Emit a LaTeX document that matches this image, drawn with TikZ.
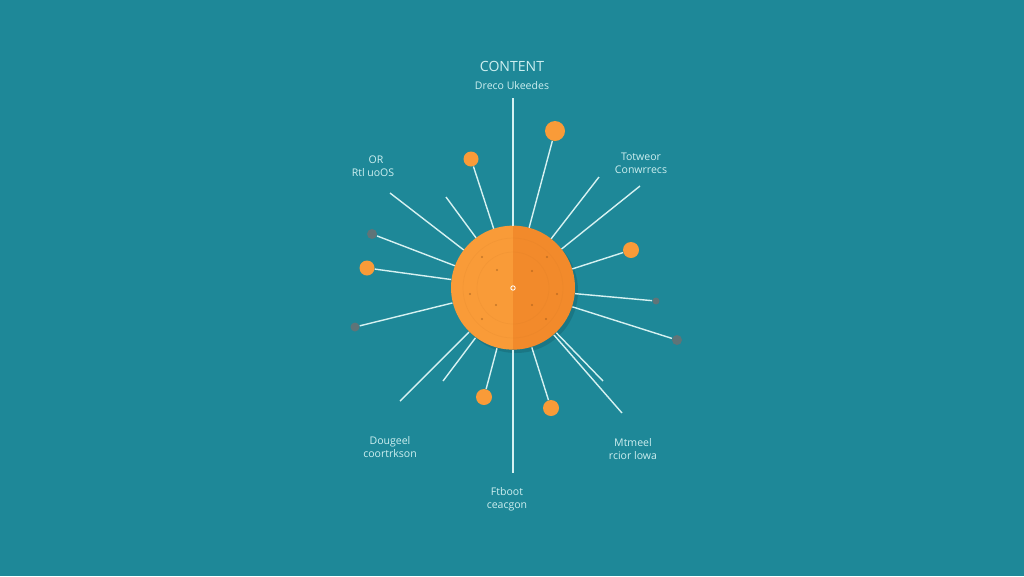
\documentclass[tikz,border=0pt]{standalone}
\usepackage{fontspec}
\setmainfont{Open Sans}
\definecolor{bgteal}{HTML}{1E8898}
\definecolor{spoke}{HTML}{D6F1F1}
\definecolor{sunlight}{HTML}{F99B38}
\definecolor{sundark}{HTML}{F28A2B}
\definecolor{dotgray}{HTML}{5F7478}
\definecolor{labeltext}{HTML}{CDEFF0}
\tikzset{
  spokeline/.style={draw=spoke, line width=0.8pt},
  orangedot/.style={circle, fill=sunlight, inner sep=0pt},
  graydot/.style={circle, fill=dotgray, inner sep=0pt},
  lbl/.style={text=labeltext, font=\fontsize{6}{7.5}\selectfont, align=center, inner sep=0pt},
}
\begin{document}
\begin{tikzpicture}[x=0.02cm, y=-0.02cm]
    \fill[bgteal] (0,0) rectangle (1024,576);% background

    \node[circle, minimum size=124*0.02cm, inner sep=0pt] (hub) at (513,288) {};
    \fill[black!40!bgteal, opacity=0.3] (516,291) circle (62);% soft shadow
    \fill[sunlight] (hub.north) arc[start angle=90, end angle=270, radius=1.24cm] -- cycle;
    \fill[sundark] (hub.north) arc[start angle=90, end angle=-90, radius=1.24cm] -- cycle;
    \draw[sundark!80!black, opacity=0.1, line width=0.4pt] (hub.center) circle (36) (hub.center) circle (50);
    \foreach \px/\py in {482/257, 547/257, 497/270, 532/271, 496/305, 532/305, 482/319, 546/319, 470/294, 557/294}{%
      \fill[sundark!60!black, opacity=0.5] (\px,\py) circle (1.2);
    }
    \draw[white, line width=0.5pt] (hub.center) circle (2.2);

    % outer end points of the bare spokes
    \coordinate (TopEnd)    at (513,98);
    \coordinate (BottomEnd) at (513,473);
    \coordinate (ULa)       at (390,193);
    \coordinate (ULb)       at (446,197);
    \coordinate (LLa)       at (400,401);
    \coordinate (LLb)       at (443,381);
    \coordinate (LRa)       at (622,413);
    \coordinate (LRb)       at (603,381);
    \coordinate (URa)       at (640,186);
    \coordinate (URb)       at (599,177);

    % dots at the spoke ends
    \node[orangedot, minimum size=20*0.02cm] (DotA) at (555,131) {};
    \node[orangedot, minimum size=15*0.02cm] (DotB) at (471,159) {};
    \node[graydot,   minimum size=10*0.02cm] (DotC) at (372,234) {};
    \node[orangedot, minimum size=15*0.02cm] (DotD) at (367,268) {};
    \node[graydot,   minimum size=9*0.02cm]  (DotE) at (355,327) {};
    \node[orangedot, minimum size=16*0.02cm] (DotF) at (484,397) {};
    \node[orangedot, minimum size=16*0.02cm] (DotG) at (551,408) {};
    \node[graydot,   minimum size=7*0.02cm]  (DotH) at (656,301) {};
    \node[graydot,   minimum size=10*0.02cm] (DotI) at (677,340) {};
    \node[orangedot, minimum size=16*0.02cm] (DotJ) at (631,250) {};

    \foreach \target in {TopEnd, BottomEnd, ULa, ULb, LLa, LLb, LRa, LRb, URa, URb,
                         DotA, DotB, DotC, DotD, DotE, DotF, DotG, DotH, DotI, DotJ}{%
      \draw[spokeline] (hub) -- (\target);
    }

    % labels
    \node[lbl, font=\fontsize{8}{9}\selectfont] (Title) at (512,66) {CONTENT};
    \node[lbl] (TitleSub) at (512,86) {Dreco Ukeedes};
    \node[lbl, align=left] (LabelUL) at (373,166) {\hspace*{1.6em}OR\\Rtl uoOS};
    \node[lbl] (LabelUR) at (641,163) {Totweor\\Conwrrecs};
    \node[lbl] (LabelLL) at (390,447) {Dougeel\\coortrkson};
    \node[lbl] (LabelLR) at (633,449) {Mtmeel\\rcior lowa};
    \node[lbl] (LabelB)  at (507,499) {Ftboot\\ceacgon};
\end{tikzpicture}
\end{document}
